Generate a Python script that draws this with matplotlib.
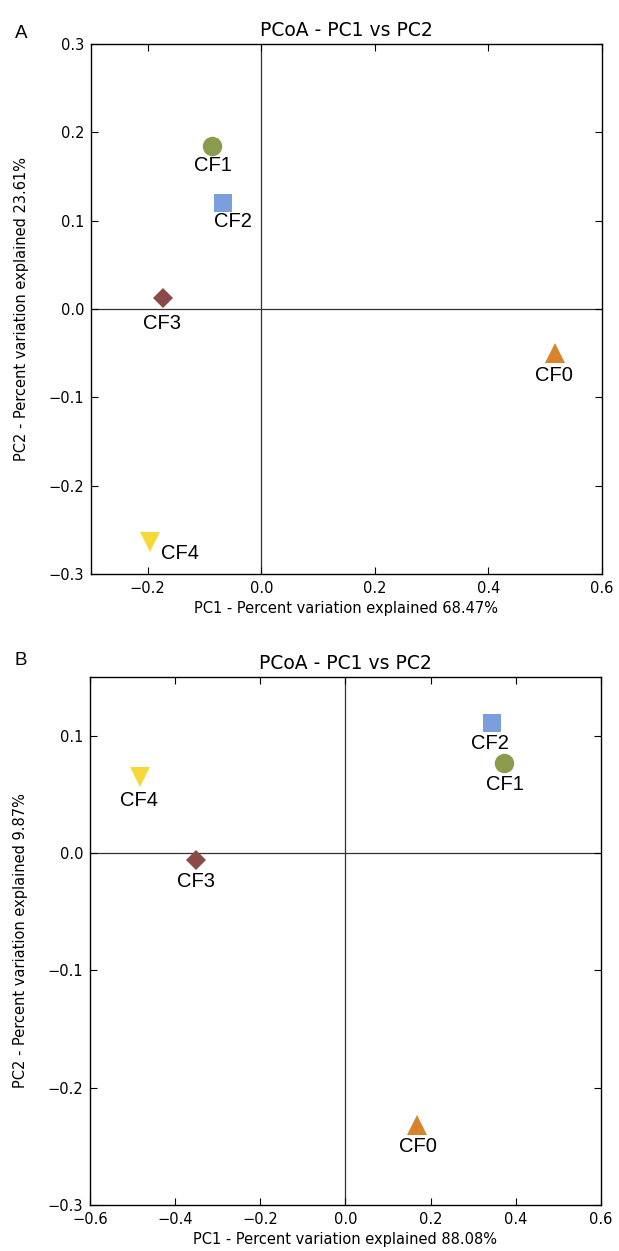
import matplotlib

matplotlib.use("Agg")
import matplotlib.pyplot as plt  # noqa: E402

# sample names and their marker styles
samples = ["CF0", "CF1", "CF2", "CF3", "CF4"]
markers = ["^", "o", "s", "D", "v"]
colors = ["#d9842a", "#8a9b4e", "#7a9fdc", "#8b4a46", "#f5d93b"]

# panel A coordinates
pc1_a = [0.517, -0.086, -0.068, -0.173, -0.196]
pc2_a = [-0.050, 0.185, 0.120, 0.012, -0.264]
# panel B coordinates
pc1_b = [0.167, 0.372, 0.344, -0.351, -0.482]
pc2_b = [-0.232, 0.077, 0.111, -0.006, 0.065]

# label offsets in pixels (dx, dy)
offs_a = [(-1, -22), (0, -20), (10, -19), (-1, -25), (30, -11)]
offs_b = [(1, -21), (1, -22), (-2, -21), (0, -21), (-1, -24)]

var_a = ("68.47%", "23.61%")
var_b = ("88.08%", "9.87%")

sizes = {"^": 14, "o": 14, "s": 13, "D": 10, "v": 14}


def panel(ax, xs, ys, offs, var, xlim, ylim, xticks, yticks, letter, letter_y):
    ax.axhline(0, color="#333333", linewidth=0.9, zorder=1)
    ax.axvline(0, color="#333333", linewidth=0.9, zorder=1)
    for name, m, c, x, y, (dx, dy) in zip(samples, markers, colors, xs, ys, offs):
        ax.plot(x, y, marker=m, color=c, markersize=sizes[m],
                linestyle="none", markeredgewidth=0, zorder=3)
        ax.annotate(name, (x, y), xytext=(dx, dy), textcoords="offset pixels",
                    ha="center", va="center", fontsize=14.5,
                    family="Liberation Sans", zorder=4)
    ax.set_xlim(*xlim)
    ax.set_ylim(*ylim)
    ax.set_xticks(xticks)
    ax.set_yticks(yticks)
    ax.tick_params(direction="in", top=True, right=True, length=5,
                   labelsize=10.5, pad=5)
    ax.set_xlabel(f"PC1 - Percent variation explained {var[0]}", fontsize=10.5)
    ax.set_ylabel(f"PC2 - Percent variation explained {var[1]}", fontsize=10.5,
                  labelpad=14)
    ax.set_title("PCoA - PC1 vs PC2", fontsize=13.5, pad=6)
    for s in ax.spines.values():
        s.set_linewidth(1.0)
    ax.text(-0.148, letter_y, letter, transform=ax.transAxes, fontsize=13.5,
            family="Liberation Sans", va="center")


fig = plt.figure(figsize=(6.19, 12.51), dpi=100)
ax_a = fig.add_axes([0.1470, 0.5412, 0.8255, 0.4237])
ax_b = fig.add_axes([0.1454, 0.0368, 0.8255, 0.4220])

panel(ax_a, pc1_a, pc2_a, offs_a, var_a, (-0.3, 0.6), (-0.3, 0.3),
      [-0.2, 0.0, 0.2, 0.4, 0.6], [-0.3, -0.2, -0.1, 0.0, 0.1, 0.2, 0.3], "A", 1.02)
panel(ax_b, pc1_b, pc2_b, offs_b, var_b, (-0.6, 0.6), (-0.3, 0.15),
      [-0.6, -0.4, -0.2, 0.0, 0.2, 0.4, 0.6], [-0.3, -0.2, -0.1, 0.0, 0.1], "B", 1.032)

fig.savefig("out.png", dpi=100)
